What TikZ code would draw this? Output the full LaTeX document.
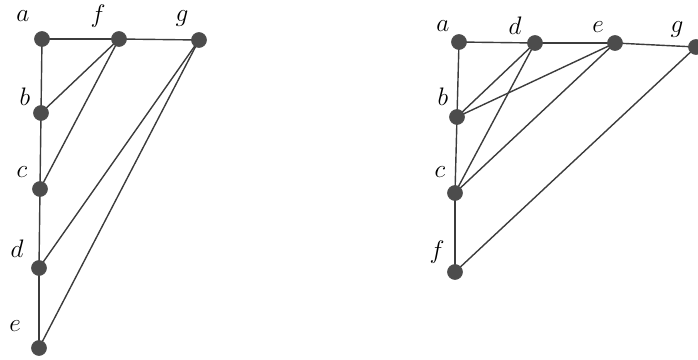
\documentclass[tikz,border=0pt]{standalone}
\usepackage{amsmath, amssymb}
\usepackage{tikz}
\usetikzlibrary{calc}
\usepackage{tkz-euclide}
\definecolor{vertgray}{RGB}{85,85,85}
\definecolor{edgegray}{RGB}{60,60,60}
\begin{document}
\begin{tikzpicture}[every node/.style={font=\fontsize{15}{17}\selectfont}]
        \useasboundingbox (0,0) rectangle (13.96,7.18);
        % first graph
        \tkzDefPoint(0.84,6.40){A}
        \tkzDefPoint(2.38,6.40){F}
        \tkzDefPoint(3.98,6.38){G}
        \tkzDefPoint(0.82,4.92){B}
        \tkzDefPoint(0.80,3.40){C}
        \tkzDefPoint(0.78,1.82){D}
        \tkzDefPoint(0.78,0.22){E}
        % second graph
        \tkzDefPoint(9.18,6.34){A2}
        \tkzDefPoint(10.70,6.32){D2}
        \tkzDefPoint(12.30,6.32){E2}
        \tkzDefPoint(13.92,6.24){G2}
        \tkzDefPoint(9.14,4.84){B2}
        \tkzDefPoint(9.10,3.32){C2}
        \tkzDefPoint(9.10,1.74){F2}
        \tkzDrawSegments[edgegray, line width=0.8pt](A,F F,G A,B B,C C,D D,E F,B F,C G,D G,E)
        \tkzDrawSegments[edgegray, line width=0.8pt](A2,D2 D2,E2 E2,G2 A2,B2 B2,C2 C2,F2 D2,B2 D2,C2 E2,B2 E2,C2 G2,F2)
        \tkzDrawPoints[fill=vertgray, color=black!70, size=8.5](A,F,G,B,C,D,E)
        \tkzDrawPoints[fill=vertgray, color=black!70, size=8.5](A2,D2,E2,G2,B2,C2,F2)
        \node (la) at (0.46,6.86) {$a$};
        \node (lf) at (1.96,6.86) {$f$};
        \node (lg) at (3.64,6.80) {$g$};
        \node (lb) at (0.50,5.24) {$b$};
        \node (lc) at (0.44,3.74) {$c$};
        \node (ld) at (0.34,2.20) {$d$};
        \node (le) at (0.30,0.66) {$e$};
        \node (la2) at (8.86,6.66) {$a$};
        \node (ld2) at (10.30,6.66) {$d$};
        \node (le2) at (11.96,6.64) {$e$};
        \node (lg2) at (13.54,6.58) {$g$};
        \node (lb2) at (8.86,5.24) {$b$};
        \node (lc2) at (8.80,3.74) {$c$};
        \node (lf2) at (8.74,2.14) {$f$};
    \end{tikzpicture}
\end{document}
